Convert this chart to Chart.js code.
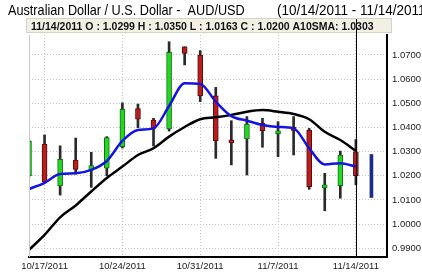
<!DOCTYPE html>
<html>
<head>
<meta charset="utf-8">
<script src="https://cdn.jsdelivr.net/npm/chart.js@4.4.0/dist/chart.umd.min.js"></script>
<style>
  html, body { margin: 0; padding: 0; background: #fff; }
  canvas { display: block; }
</style>
</head>
<body>
<canvas id="audChart" width="422" height="272"></canvas>
<script>
// AUD/USD daily candles
const dates = ['10/14/2011', '10/17/2011', '10/18/2011', '10/19/2011', '10/20/2011', '10/21/2011',
    '10/24/2011', '10/25/2011', '10/26/2011', '10/27/2011', '10/28/2011', '10/31/2011',
    '11/1/2011', '11/2/2011', '11/3/2011', '11/4/2011', '11/7/2011', '11/8/2011',
    '11/9/2011', '11/10/2011', '11/11/2011', '11/14/2011'];
const openPx  = [1.0200, 1.0331, 1.0158, 1.0265, 1.0224, 1.0231, 1.0320, 1.0478, 1.0431, 1.0394, 1.0734,
    1.0700, 1.0531, 1.0338, 1.0352, 1.0417, 1.0374, 1.0391, 1.0389, 1.0150, 1.0159, 1.0299];
const highPx  = [1.0348, 1.0369, 1.0324, 1.0356, 1.0297, 1.0362, 1.0502, 1.0497, 1.0438, 1.0755, 1.0734,
    1.0718, 1.0566, 1.0428, 1.0445, 1.0438, 1.0424, 1.0445, 1.0396, 1.0210, 1.0302, 1.0350];
const lowPx   = [1.0195, 1.0172, 1.0120, 1.0207, 1.0152, 1.0200, 1.0315, 1.0399, 1.0323, 1.0385, 1.0659,
    1.0507, 1.0272, 1.0245, 1.0203, 1.0318, 1.0279, 1.0286, 1.0144, 1.0055, 1.0107, 1.0163];
const closePx = [1.0343, 1.0174, 1.0268, 1.0226, 1.0242, 1.0358, 1.0475, 1.0434, 1.0396, 1.0711, 1.0707,
    1.0531, 1.0344, 1.0336, 1.0414, 1.0387, 1.0378, 1.0388, 1.0155, 1.0153, 1.0286, 1.0200];

// moving averages (blue = short one, black = A10SMA)
const fastMA = [1.0145, 1.0171, 1.0207, 1.0210, 1.0224, 1.0261, 1.0344, 1.0389, 1.0396, 1.0489, 1.0583,
    1.0580, 1.0507, 1.0447, 1.0428, 1.0410, 1.0402, 1.0396, 1.0314, 1.0247, 1.0252, 1.0238];
const sma10 = [0.9893, 0.9955, 1.0028, 1.0077, 1.0135, 1.0191, 1.0238, 1.0286, 1.0314, 1.0362, 1.0402,
    1.0434, 1.0442, 1.0452, 1.0465, 1.0472, 1.0465, 1.0456, 1.0434, 1.0382, 1.0348, 1.0303];

// the running (unfinished) day
const liveDate = '11/15/2011';
const liveRange = [1.0110, 1.0288];

const tickDates = ['10/17/2011', '10/24/2011', '10/31/2011', '11/7/2011', '11/14/2011'];
const priceTicks = [0.99, 1.00, 1.01, 1.02, 1.03, 1.04, 1.05, 1.06, 1.07];

const allDates = dates.concat([liveDate]);
const lastIdx = dates.length - 1;
const baseFont = '"Liberation Sans", Arial, sans-serif';

const upFill = '#22d822', upLine = '#157015';
const downFill = '#b81e1e', downLine = '#5c0b0b';

const wicks = dates.map((d, i) => ({ x: i, y: [lowPx[i], highPx[i]] }));
const bodies = dates.map((d, i) => ({ x: i, y: [Math.min(openPx[i], closePx[i]), Math.max(openPx[i], closePx[i])] }));
const isUp = dates.map((d, i) => closePx[i] >= openPx[i]);

const infoText = dates[lastIdx] + ' O : ' + openPx[lastIdx].toFixed(4) + ' H : ' + highPx[lastIdx].toFixed(4) +
    ' L : ' + lowPx[lastIdx].toFixed(4) + ' C : ' + closePx[lastIdx].toFixed(4) + ' A10SMA: ' + sma10[lastIdx].toFixed(4);

// draws text squeezed horizontally (the original uses a condensed face)
function narrowText(ctx, text, x, y, squish) {
    ctx.save();
    ctx.setTransform(squish, 0, 0, 1, 0, 0);
    ctx.fillText(text, x / squish, y);
    ctx.restore();
}

const chartChrome = {
    id: 'chartChrome',
    beforeDraw(chart) {
        const ctx = chart.ctx;
        ctx.save();
        ctx.fillStyle = '#fff';
        ctx.fillRect(0, 0, chart.width, chart.height);
        ctx.restore();
    },
    afterDraw(chart) {
        const { ctx, chartArea: a, scales } = chart;
        ctx.save();
        // faint left frame
        ctx.strokeStyle = '#c8c8c8';
        ctx.lineWidth = 1;
        ctx.beginPath();
        ctx.moveTo(a.left + 0.5, a.top);
        ctx.lineTo(a.left + 0.5, a.bottom);
        ctx.stroke();

        // info strip
        ctx.fillStyle = '#f2f0e4';
        ctx.fillRect(26, 18, 366, 15);
        ctx.strokeStyle = '#d6d4c6';
        ctx.strokeRect(26.5, 18.5, 365, 14);

        // cursor line on the selected day
        const cx = Math.round(scales.x.getPixelForValue(lastIdx)) + 0.5;
        ctx.strokeStyle = '#000';
        ctx.beginPath();
        ctx.moveTo(cx, 19);
        ctx.lineTo(cx, a.bottom);
        ctx.stroke();

        ctx.fillStyle = '#111';
        ctx.font = 'bold 10.5px ' + baseFont;
        ctx.fillText(infoText, 31, 29.5);

        // title; the date range runs off the right edge like the original
        ctx.fillStyle = '#000';
        ctx.font = '15px ' + baseFont;
        narrowText(ctx, 'Australian Dollar / U.S. Dollar -  AUD/USD', 8, 14.5, 0.845);
        narrowText(ctx, '(' + dates[0] + ' - ' + dates[lastIdx] + ')', 277, 14.5, 0.9);
        ctx.restore();
    }
};

Chart.defaults.font.family = baseFont;
Chart.defaults.font.size = 9.5;
Chart.defaults.color = '#222';

new Chart(document.getElementById('audChart'), {
    type: 'bar',
    data: {
        datasets: [
            {
                type: 'line',
                label: 'Fast MA',
                data: fastMA.map((v, i) => ({ x: i, y: v })),
                borderColor: '#1414e0',
                borderWidth: 2.5,
                pointRadius: 0,
                cubicInterpolationMode: 'monotone',
                order: 0
            },
            {
                type: 'line',
                label: 'A10SMA',
                data: sma10.map((v, i) => ({ x: i, y: v })),
                borderColor: '#000',
                borderWidth: 2.5,
                pointRadius: 0,
                cubicInterpolationMode: 'monotone',
                order: 1
            },
            {
                label: 'Body',
                data: bodies,
                backgroundColor: isUp.map(u => u ? upFill : downFill),
                borderColor: isUp.map(u => u ? upLine : downLine),
                borderWidth: 1,
                borderSkipped: false,
                barThickness: 5,
                minBarLength: 3,
                grouped: false,
                order: 2
            },
            {
                label: 'Wick',
                data: wicks,
                backgroundColor: '#2a2a2a',
                barThickness: 2,
                grouped: false,
                order: 3
            },
            {
                label: 'Live',
                data: [{ x: allDates.length - 1, y: liveRange }],
                backgroundColor: '#1c2c84',
                barThickness: 3,
                grouped: false,
                order: 3
            }
        ]
    },
    options: {
        responsive: false,
        animation: false,
        devicePixelRatio: 1,
        layout: { padding: { left: 29, top: 35, right: 0, bottom: 0 } },
        plugins: {
            legend: { display: false },
            tooltip: { enabled: false },
            title: { display: false }
        },
        scales: {
            x: {
                type: 'linear',
                min: 0,
                max: allDates.length,
                offset: false,
                afterBuildTicks: (scale) => {
                    scale.ticks = tickDates.map(d => ({ value: allDates.indexOf(d) }));
                },
                afterFit: (scale) => { scale.height = 15; },
                ticks: {
                    autoSkip: false,
                    maxRotation: 0,
                    padding: 4,
                    color: '#222',
                    callback: (value) => allDates[value]
                },
                grid: {
                    offset: false,
                    drawTicks: false,
                    color: '#c4c4c4',
                    lineWidth: 1
                },
                border: { display: true, color: '#000', width: 2, dash: [1, 2] }
            },
            y: {
                position: 'right',
                min: 0.98636,
                max: 1.07828,
                afterBuildTicks: (scale) => {
                    scale.ticks = priceTicks.map(v => ({ value: v }));
                },
                afterFit: (scale) => { scale.width = 35; },
                ticks: {
                    padding: 5,
                    color: '#222',
                    callback: (value) => value.toFixed(4)
                },
                grid: {
                    drawTicks: false,
                    color: '#c4c4c4',
                    lineWidth: 1
                },
                border: { display: true, color: '#000', width: 2, dash: [1, 2] }
            }
        }
    },
    plugins: [chartChrome]
});
</script>
</body>
</html>
